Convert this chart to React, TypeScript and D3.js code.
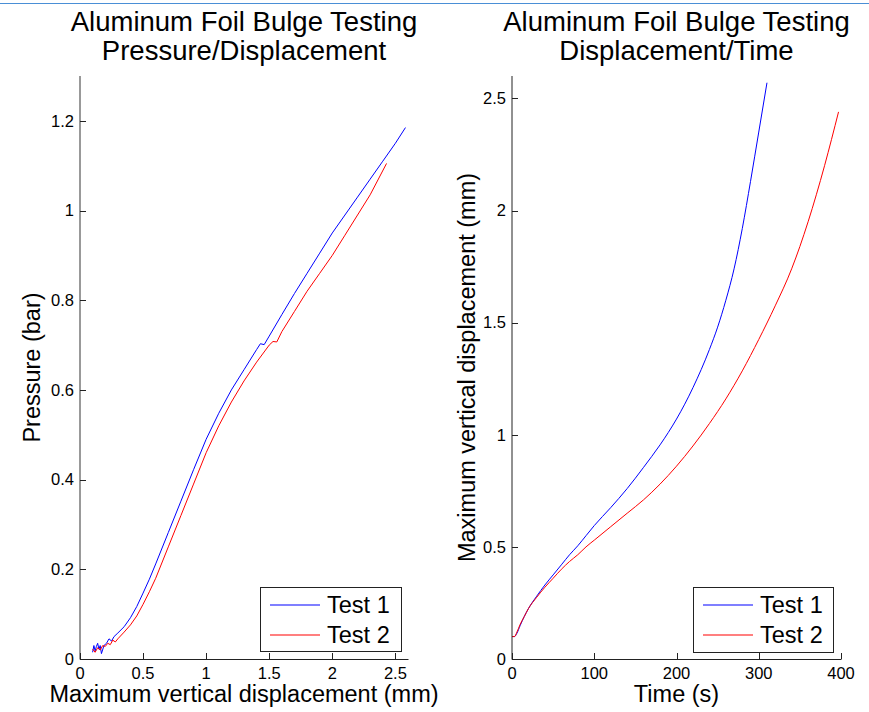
import React from "react";
import * as d3 from "d3";

// ---------- data ----------
const seriesNames = ["Test 1", "Test 2"];

// Left: Pressure (bar) vs maximum vertical displacement (mm)
const t1Disp = [0.10, 0.11, 0.12, 0.13, 0.14, 0.15, 0.16, 0.17, 0.19, 0.21, 0.23, 0.25, 0.27, 0.3, 0.35, 0.4, 0.45, 0.5, 0.55, 0.6, 0.7, 0.8, 0.9, 1.0, 1.1, 1.2, 1.3, 1.4, 1.43, 1.46, 1.5, 1.6, 1.7, 1.8, 1.9, 2.0, 2.1, 2.2, 2.3, 2.4, 2.5, 2.58];
const t1Press = [0.015, 0.03, 0.018, 0.028, 0.035, 0.022, 0.03, 0.012, 0.03, 0.035, 0.045, 0.04, 0.05, 0.058, 0.072, 0.092, 0.117, 0.147, 0.178, 0.212, 0.282, 0.352, 0.422, 0.49, 0.548, 0.6, 0.645, 0.69, 0.703, 0.701, 0.72, 0.768, 0.815, 0.86, 0.905, 0.95, 0.99, 1.03, 1.07, 1.11, 1.15, 1.185];
const t2Disp = [0.10, 0.12, 0.14, 0.16, 0.18, 0.2, 0.22, 0.24, 0.26, 0.28, 0.3, 0.35, 0.4, 0.45, 0.5, 0.55, 0.6, 0.7, 0.8, 0.9, 1.0, 1.1, 1.2, 1.3, 1.4, 1.5, 1.53, 1.56, 1.6, 1.7, 1.8, 1.9, 2.0, 2.1, 2.2, 2.3, 2.43];
const t2Press = [0.022, 0.015, 0.025, 0.02, 0.03, 0.028, 0.035, 0.032, 0.042, 0.038, 0.045, 0.06, 0.076, 0.096, 0.122, 0.15, 0.18, 0.25, 0.32, 0.39, 0.46, 0.52, 0.573, 0.62, 0.662, 0.7, 0.708, 0.707, 0.73, 0.775, 0.82, 0.86, 0.9, 0.945, 0.99, 1.035, 1.105];

// Right: displacement (mm) vs time (s)
const t1Time = [0, 3, 6, 10, 15, 20, 30, 40, 50, 60, 70, 80, 90, 100, 120, 140, 160, 180, 190, 200, 220, 240, 250, 260, 270, 280, 290, 300, 310];
const t1DispT = [0.10, 0.10, 0.115, 0.15, 0.19, 0.225, 0.28, 0.33, 0.375, 0.42, 0.465, 0.505, 0.55, 0.595, 0.675, 0.76, 0.855, 0.955, 1.01, 1.07, 1.21, 1.38, 1.48, 1.6, 1.74, 1.92, 2.13, 2.35, 2.57];
const t2Time = [0, 3, 6, 10, 15, 20, 30, 40, 50, 60, 70, 80, 90, 100, 120, 140, 160, 180, 200, 220, 240, 260, 280, 300, 320, 340, 360, 380, 397];
const t2DispT = [0.10, 0.10, 0.12, 0.155, 0.19, 0.225, 0.275, 0.32, 0.36, 0.4, 0.435, 0.465, 0.5, 0.53, 0.59, 0.65, 0.71, 0.78, 0.86, 0.95, 1.05, 1.16, 1.285, 1.425, 1.575, 1.74, 1.95, 2.2, 2.44];

const leftXTicks = [0, 0.5, 1, 1.5, 2, 2.5];
const leftYTicks = [0, 0.2, 0.4, 0.6, 0.8, 1, 1.2];
const rightXTicks = [0, 100, 200, 300, 400];
const rightYTicks = [0, 0.5, 1, 1.5, 2, 2.5];

const colors = ["#0000ff", "#ff0000"];
const FONT = "'Liberation Sans', Arial, Helvetica, sans-serif";

type Pt = [number, number];
const zip = (a: number[], b: number[]): Pt[] => a.map((v, i) => [v, b[i]]);

function Panel(props: {
  x0: number; x1: number; y0: number; y1: number;
  xDomain: [number, number]; yDomain: [number, number];
  xTicks: number[]; yTicks: number[];
  series: Pt[][]; smooth: boolean;
  title: string[]; xLabel: string; yLabel: string; yLabelX: number;
  legendBox: [number, number, number, number];
  yAxisColor: string; yAxisWidth: number;
}) {
  const { x0, x1, y0, y1 } = props;
  const xs = d3.scaleLinear().domain(props.xDomain).range([x0, x1]);
  const ys = d3.scaleLinear().domain(props.yDomain).range([y0, y1]);
  const line = d3.line<Pt>().x(d => xs(d[0])).y(d => ys(d[1]))
    .curve(props.smooth ? d3.curveMonotoneX : d3.curveLinear);
  const cx = (x0 + x1) / 2;
  const [lx, ly, lw, lh] = props.legendBox;
  return (
    <g>
      {props.title.map((t, i) => (
        <text key={i} x={cx} y={31 + i * 29} textAnchor="middle" fontSize={27.5} fontFamily={FONT} fill="#000">{t}</text>
      ))}
      {props.series.map((s, i) => (
        <path key={i} d={line(s) || ""} fill="none" stroke={colors[i]} strokeWidth={1} />
      ))}
      {/* y axis */}
      <line x1={x0} x2={x0} y1={y0 + 0.5} y2={y1} stroke={props.yAxisColor} strokeWidth={props.yAxisWidth} />
      {props.yTicks.map(t => (
        <g key={t}>
          <line x1={x0} x2={x0 + 6} y1={Math.round(ys(t)) + 0.5} y2={Math.round(ys(t)) + 0.5} stroke="#222" strokeWidth={1} />
          <text x={x0 - 6} y={ys(t)} dy="0.35em" textAnchor="end" fontSize={16.5} fontFamily={FONT} fill="#000">{String(t)}</text>
        </g>
      ))}
      {/* x axis */}
      <line x1={x0} x2={x1 + 0.5} y1={y0 + 0.5} y2={y0 + 0.5} stroke="#222" strokeWidth={1} />
      {props.xTicks.map(t => (
        <g key={t}>
          <line x1={Math.round(xs(t)) + 0.5} x2={Math.round(xs(t)) + 0.5} y1={y0} y2={y0 - 6} stroke="#222" strokeWidth={1} />
          <text x={xs(t)} y={y0 + 14} dy="0.35em" textAnchor="middle" fontSize={16.5} fontFamily={FONT} fill="#000">{String(t)}</text>
        </g>
      ))}
      <text x={cx} y={702} textAnchor="middle" fontSize={23.5} fontFamily={FONT} fill="#000">{props.xLabel}</text>
      <text transform={`translate(${props.yLabelX},${(y0 + y1) / 2}) rotate(-90)`} textAnchor="middle" fontSize={23.5} fontFamily={FONT} fill="#000">{props.yLabel}</text>
      {/* legend */}
      <rect x={lx + 0.5} y={ly + 0.5} width={lw} height={lh} fill="#fff" stroke="#222" strokeWidth={1} />
      {seriesNames.map((n, i) => (
        <g key={n}>
          <line x1={lx + 10} x2={lx + 60} y1={ly + 18 + i * 30} y2={ly + 18 + i * 30} stroke={colors[i]} strokeWidth={1.2} />
          <text x={lx + 67} y={ly + 18 + i * 30} dy="0.35em" fontSize={23.5} fontFamily={FONT} fill="#000">{n}</text>
        </g>
      ))}
    </g>
  );
}

export default function App() {
  return (
    <svg width={869} height={712} style={{ position: "absolute", left: 0, top: 0, background: "#fff" }}>
      <rect x={0} y={0} width={869} height={712} fill="#fff" />
      <line x1={0} x2={869} y1={3.5} y2={3.5} stroke="#4a8fd6" strokeWidth={1} />
      <Panel
        x0={80} x1={408} y0={659} y1={76}
        xDomain={[0, 2.6]} yDomain={[0, 1.3]}
        xTicks={leftXTicks} yTicks={leftYTicks}
        series={[zip(t1Disp, t1Press), zip(t2Disp, t2Press)]} smooth={false}
        title={["Aluminum Foil Bulge Testing", "Pressure/Displacement"]}
        xLabel="Maximum vertical displacement (mm)"
        yLabel="Pressure (bar)" yLabelX={40}
        legendBox={[260, 587, 141, 64]}
        yAxisColor="#999" yAxisWidth={2}
      />
      <Panel
        x0={512} x1={841} y0={659} y1={76}
        xDomain={[0, 400]} yDomain={[0, 2.6]}
        xTicks={rightXTicks} yTicks={rightYTicks}
        series={[zip(t1Time, t1DispT), zip(t2Time, t2DispT)]} smooth={true}
        title={["Aluminum Foil Bulge Testing", "Displacement/Time"]}
        xLabel="Time (s)"
        yLabel="Maximum vertical displacement (mm)" yLabelX={475}
        legendBox={[693, 587, 140, 65]}
        yAxisColor="#222" yAxisWidth={1}
      />
    </svg>
  );
}
